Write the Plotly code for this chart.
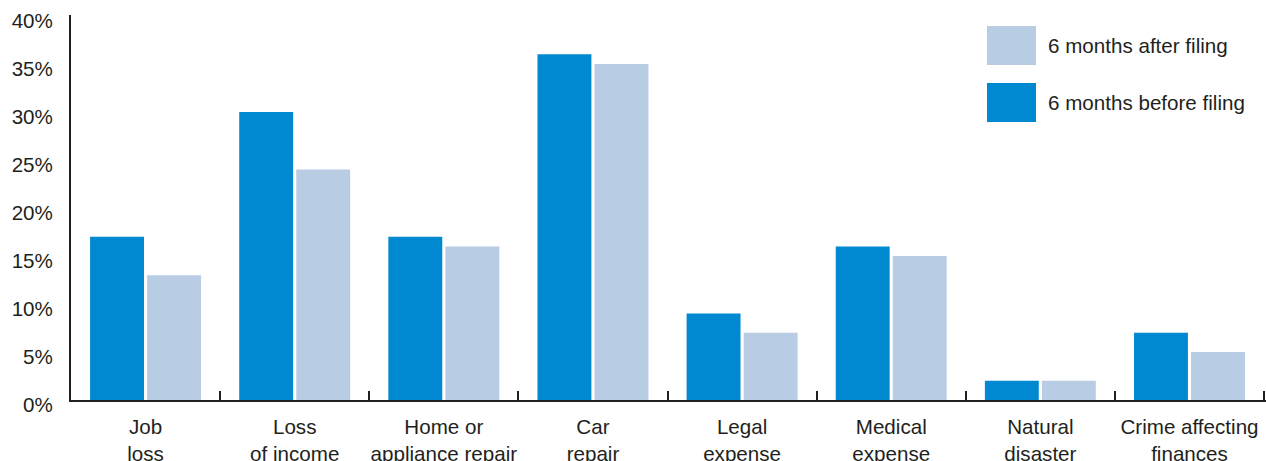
import plotly.graph_objects as go

categories = ["Job<br>loss", "Loss<br>of income", "Home or<br>appliance repair", "Car<br>repair",
              "Legal<br>expense", "Medical<br>expense", "Natural<br>disaster", "Crime affecting<br>finances"]
before_filing = [17, 30, 17, 36, 9, 16, 2, 7]
after_filing = [13, 24, 16, 35, 7, 15, 2, 5]
y_ticks = [0, 5, 10, 15, 20, 25, 30, 35, 40]
y_tick_labels = [f"{v}%" for v in y_ticks]
series_names = ["6 months after filing", "6 months before filing"]

C_BEFORE = "#0089d0"
C_AFTER = "#b8cce4"
TEXT = "#231f20"
FONT = "Liberation Sans, Arial, sans-serif"
FS = 20.6

fig = go.Figure()
fig.add_bar(x=categories, y=before_filing, name=series_names[1], marker_color=C_BEFORE,
            marker_line_width=0, showlegend=False)
fig.add_bar(x=categories, y=after_filing, name=series_names[0], marker_color=C_AFTER,
            marker_line_width=0, showlegend=False)

fig.update_layout(
    width=1266, height=461,
    margin=dict(l=71, r=0, t=15, b=61, autoexpand=False),
    paper_bgcolor="white", plot_bgcolor="white",
    barmode="group", bargap=0.235, bargroupgap=0.055,
    font=dict(family=FONT, size=FS, color=TEXT),
    xaxis=dict(
        range=[-0.5, 7.513], showline=True, linecolor=TEXT, linewidth=2,
        ticks="inside", tickson="boundaries", ticklen=9, tickwidth=2, tickcolor=TEXT,
        showgrid=False, zeroline=False, fixedrange=True, tickangle=0, automargin=False,
        ticklabelstandoff=7,
        tickfont=dict(family=FONT, size=FS, color=TEXT),
    ),
    yaxis=dict(
        range=[0, 40.1], showline=True, linecolor=TEXT, linewidth=2,
        tickvals=y_ticks, ticktext=y_tick_labels, ticks="", showgrid=False, zeroline=False,
        ticklabelshift=5, ticklabelstandoff=12, automargin=False, ticklabeloverflow="allow",
        tickfont=dict(family=FONT, size=FS, color=TEXT),
    ),
)

# legend drawn manually
legend_colors = [C_AFTER, C_BEFORE]
legend_y = [(26, 65), (83, 122)]
for name, col, (y0, y1) in zip(series_names, legend_colors, legend_y):
    fig.add_shape(type="rect", xref="paper", yref="paper",
                  x0=(987 - 71) / 1195, x1=(1036 - 71) / 1195,
                  y0=1 - (y1 - 15) / 385, y1=1 - (y0 - 15) / 385,
                  fillcolor=col, line_width=0)
    fig.add_annotation(xref="paper", yref="paper", x=(1046 - 71) / 1195,
                       y=1 - ((y0 + y1) / 2 - 15) / 385, text=name, showarrow=False,
                       xanchor="left", yanchor="middle",
                       font=dict(family=FONT, size=FS, color=TEXT))

fig.write_html("out.html")
